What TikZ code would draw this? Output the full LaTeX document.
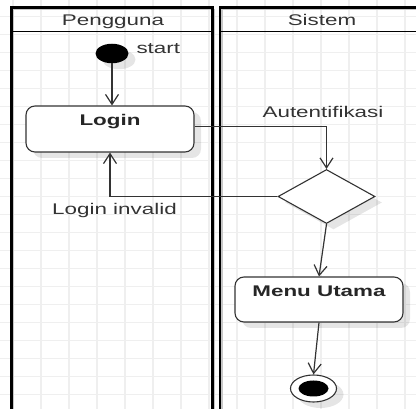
\documentclass[tikz,border=0pt]{standalone}
\usepackage{fontspec}
\setmainfont{Liberation Sans}
\usetikzlibrary{arrows.meta,shapes.geometric,shadows,calc}
% text is set wide and low
\newcommand\squash[1]{\scalebox{1}[0.69]{#1}}
\definecolor{gridc}{HTML}{EFEFEF}
\definecolor{ink}{HTML}{333333}

\begin{document}
\begin{tikzpicture}[x=1pt,y=-1pt,
  every node/.style={font=\fontsize{22.4}{24}\selectfont, text=ink},
  soft/.style={drop shadow={shadow xshift=7pt, shadow yshift=-6pt, fill=black, opacity=0.1}},
  gridline/.style={draw=gridc, line width=1.4pt},
  lane/.style={draw=black, line width=2.6pt},
  lanefringe/.style={draw=black!22, line width=1.4pt},
  headline/.style={draw=black, line width=1.8pt},
  flow/.style={draw=ink, line width=1.2pt,
    -{Straight Barb[length=10pt,width=13pt,line width=1.2pt]}},
  activity/.style={draw=ink, line width=1.1pt, fill=white, rounded corners=9pt,
    minimum width=168pt, minimum height=46pt, inner sep=0pt, soft},
  decision/.style={diamond, draw=ink, line width=1.1pt, fill=white, aspect=1.8,
    minimum width=97pt, minimum height=54pt, inner sep=0pt, soft},
  initial/.style={ellipse, fill=black, minimum width=33pt, minimum height=19.5pt,
    inner sep=0pt, soft},
  final/.style={ellipse, draw=ink, line width=1.1pt, fill=white, minimum width=46pt,
    minimum height=27pt, inner sep=0pt, soft},
  finalcore/.style={ellipse, fill=black, minimum width=30pt, minimum height=16pt,
    inner sep=0pt},
]
\useasboundingbox (0,0) rectangle (416,409);
\clip (0,0) rectangle (416,409);

% background grid
\foreach \k in {0,...,14} \draw[gridline] ({13+28*\k},0) -- ({13+28*\k},409);
\foreach \k in {0,...,21} \draw[gridline] (0,{16.7+18*\k}) -- (416,{16.7+18*\k});

% swimlanes
\begin{scope}[shift={(2,2)}]
  \draw[lanefringe] (11.5,7.5) rectangle (212.5,430);
  \draw[lanefringe] (220,7.5) rectangle (422,430);
\end{scope}
\draw[lane] (11.5,7.5) rectangle (212.5,430);
\draw[headline] (11.5,31.5) -- (212.5,31.5);
\draw[lane] (220,7.5) rectangle (422,430);
\draw[headline] (220,31.5) -- (422,31.5);
\node[anchor=base] (hpengguna) at (113,26) {\squash{Pengguna}};
\node[anchor=base] (hsistem) at (322,26) {\squash{Sistem}};

% activity nodes
\node[initial] (start) at (112,53.5) {};
\node[anchor=base west] (startlbl) at (133,54) {\squash{start}};

\node[activity, label={[anchor=base, yshift=-20.5pt, text=black!85]north:{\bfseries\squash{Login}}}]
  (login) at (110,129) {};

\node[decision] (dec) at (326.5,196.5) {};

\node[activity, minimum height=45pt,
  label={[anchor=base, yshift=-19.7pt, text=black!85]north:{\bfseries\squash{Menu Utama}}}]
  (menu) at (319,299.5) {};

\node[final] (endc) at (313.5,388.5) {};
\node[finalcore] (endcore) at (endc.center) {};

% connectors
\draw[flow] (start) -- (start |- login.north);
\draw[flow] ([yshift=2.5pt]login.east) -| (dec.north);
\draw[flow] (dec.west) -| (login.south);
\draw[flow] (dec.south) -- (menu.north);
\draw[flow] (menu.south) -- (endc.north);

% connector labels
\node[anchor=base] (lblauth) at (323,118) {\squash{Autentifikasi}};
\node[anchor=base] (lblinvalid) at (114.5,215) {\squash{Login invalid}};
\end{tikzpicture}
\end{document}
